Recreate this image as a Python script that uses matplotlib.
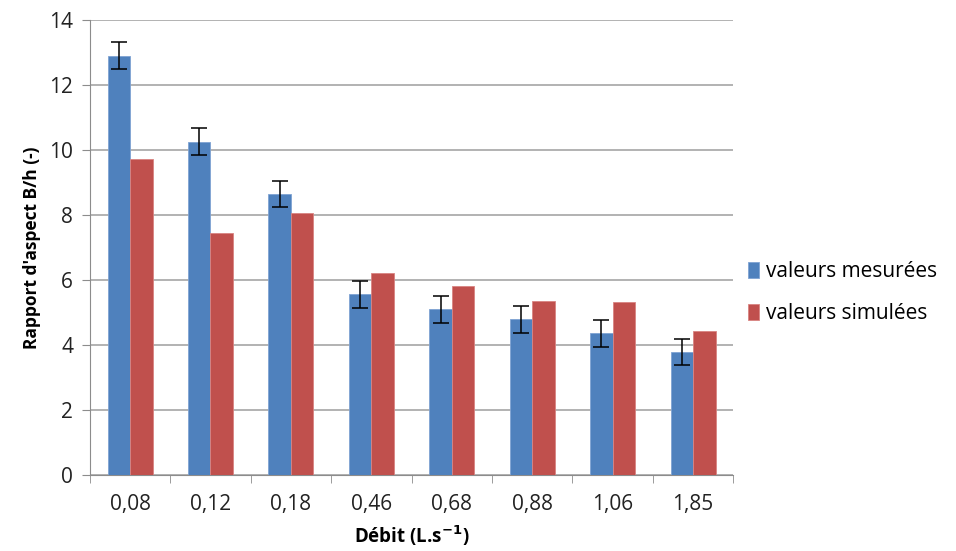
import numpy as np
import matplotlib
matplotlib.use("Agg")
import matplotlib.pyplot as plt

plt.rcParams["font.family"] = ["Open Sans", "DejaVu Sans"]
plt.rcParams["axes.unicode_minus"] = False

# Données
debits = ["0,08", "0,12", "0,18", "0,46", "0,68", "0,88", "1,06", "1,85"]
mesurees = [12.90, 10.25, 8.64, 5.56, 5.10, 4.79, 4.36, 3.79]
erreurs = [0.41, 0.41, 0.41, 0.42, 0.42, 0.41, 0.42, 0.40]
simulees = [9.73, 7.45, 8.07, 6.20, 5.81, 5.35, 5.32, 4.44]

x = np.arange(len(debits))
w = 0.28

fig = plt.figure(figsize=(9.56, 5.51), dpi=100)
ax = fig.add_axes([0.094, 0.138, 0.673, 0.826])

ax.bar(x - w / 2, mesurees, w, color="#4F81BD", edgecolor="#7fa3d3",
       linewidth=0.6, label="valeurs mesurées", zorder=3)
ax.errorbar(x - w / 2, mesurees, yerr=erreurs, fmt="none", ecolor="black",
            elinewidth=1.1, capsize=6, capthick=1.1, zorder=4)
ax.bar(x + w / 2, simulees, w, color="#C0504D", edgecolor="#d98482",
       linewidth=0.6, label="valeurs simulées", zorder=3)

ax.set_xlim(-0.5, len(debits) - 0.5)
ax.set_ylim(0, 14)
ax.set_yticks(range(0, 15, 2))
ax.set_xticks(x)
ax.set_xticklabels(debits)
ax.set_xticks(np.arange(-0.5, len(debits)), minor=True)
ax.tick_params(axis="x", which="major", length=0, pad=14, labelsize=15,
               labelcolor="#222222")
ax.tick_params(axis="x", which="minor", length=6, color="#8c8c8c")
ax.tick_params(axis="y", length=6, color="#8c8c8c", labelsize=15, pad=6,
               labelcolor="#222222")

ax.grid(axis="y", color="#a6a6a6", linewidth=1.2, zorder=0)
for s in ["top", "right"]:
    ax.spines[s].set_visible(False)
ax.spines["left"].set_color("#8c8c8c")
ax.spines["bottom"].set_color("#8c8c8c")

ax.set_ylabel("Rapport d'aspect B/h (-)", fontsize=12.5, fontweight="bold",
              labelpad=6)
ax.set_xlabel("Débit (L.s$^{\\mathbf{-1}}$)", fontsize=13.5, fontweight="bold",
              labelpad=6)

ax.legend(loc="center left", bbox_to_anchor=(1.0, 0.40), frameon=False,
          fontsize=15, handlelength=0.55, handleheight=0.8, handletextpad=0.3,
          labelspacing=1.0, borderpad=0.2)

fig.savefig("out.png", dpi=100)
